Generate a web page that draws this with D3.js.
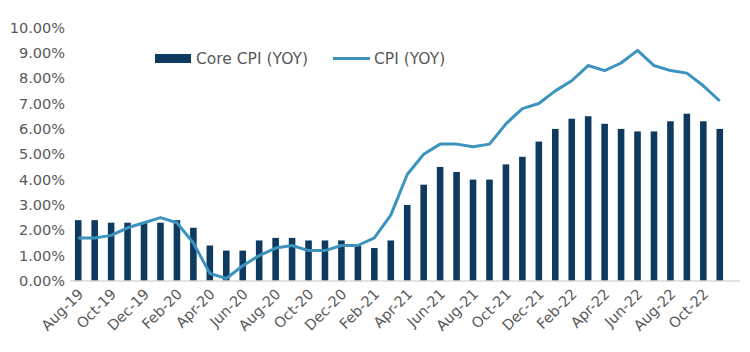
<!DOCTYPE html>
<html>
<head>
<meta charset="utf-8">
<script src="https://cdn.jsdelivr.net/npm/d3@7"></script>
<style>
  body { margin: 0; background: #fff; }
  text { font-family: "DejaVu Sans", sans-serif; fill: #595959; }
</style>
</head>
<body>
<div id="container"></div>
<script>
/* CONSTANTS AND GLOBALS */
const width = 750,
  height = 352,
  margin = { top: 27.5, bottom: 71, left: 70, right: 22 };

// months, Aug-19 .. Nov-22
const months = ["Aug-19","Sep-19","Oct-19","Nov-19","Dec-19",
  "Jan-20","Feb-20","Mar-20","Apr-20","May-20","Jun-20","Jul-20","Aug-20","Sep-20","Oct-20","Nov-20","Dec-20",
  "Jan-21","Feb-21","Mar-21","Apr-21","May-21","Jun-21","Jul-21","Aug-21","Sep-21","Oct-21","Nov-21","Dec-21",
  "Jan-22","Feb-22","Mar-22","Apr-22","May-22","Jun-22","Jul-22","Aug-22","Sep-22","Oct-22","Nov-22"];

const coreCPI = [2.4,2.4,2.3,2.3,2.3,
  2.3,2.4,2.1,1.4,1.2,1.2,1.6,1.7,1.7,1.6,1.6,1.6,
  1.4,1.3,1.6,3.0,3.8,4.5,4.3,4.0,4.0,4.6,4.9,5.5,
  6.0,6.4,6.5,6.2,6.0,5.9,5.9,6.3,6.6,6.3,6.0];

const cpi = [1.7,1.7,1.8,2.1,2.3,
  2.5,2.3,1.5,0.3,0.1,0.6,1.0,1.3,1.4,1.2,1.2,1.4,
  1.4,1.7,2.6,4.2,5.0,5.4,5.4,5.3,5.4,6.2,6.8,7.0,
  7.5,7.9,8.5,8.3,8.6,9.1,8.5,8.3,8.2,7.7,7.1];

const yTicks = [0,1,2,3,4,5,6,7,8,9,10];
const xLabels = months.filter((d, i) => i % 2 === 0);

const barColor = "#0d3a5e",
  lineColor = "#3b93be";

const svg = d3.select("#container")
  .append("svg")
  .attr("width", width)
  .attr("height", height);

/* SCALES */
const xScale = d3.scaleBand()
  .domain(months)
  .range([margin.left, width - margin.right])
  .paddingInner(0.6)
  .paddingOuter(0.3);

const yScale = d3.scaleLinear()
  .domain([0, 10])
  .range([height - margin.bottom, margin.top]);

// y axis labels (no line)
const yAxis = d3.axisLeft(yScale)
  .tickValues(yTicks)
  .tickSize(0)
  .tickPadding(5)
  .tickFormat(d => d.toFixed(2) + "%");

svg.append("g")
  .attr("transform", `translate(${margin.left},0)`)
  .call(yAxis)
  .call(g => g.select(".domain").remove())
  .selectAll("text")
  .style("font-size", "14.5px")
  .attr("fill", "#595959");

// bars
svg.selectAll("rect.bar")
  .data(coreCPI)
  .join("rect")
  .attr("class", "bar")
  .attr("x", (d, i) => xScale(months[i]))
  .attr("width", xScale.bandwidth())
  .attr("y", d => yScale(d))
  .attr("height", d => yScale(0) - yScale(d))
  .attr("fill", barColor);

// baseline
svg.append("line")
  .attr("x1", margin.left)
  .attr("x2", 740)
  .attr("y1", yScale(0))
  .attr("y2", yScale(0))
  .attr("stroke", "#d9d9d9")
  .attr("stroke-width", 1.5);

// x axis labels
const xAxis = d3.axisBottom(xScale)
  .tickValues(xLabels)
  .tickSize(0)
  .tickPadding(0);

svg.append("g")
  .attr("transform", `translate(0,${yScale(0)})`)
  .call(xAxis)
  .call(g => g.select(".domain").remove())
  .selectAll("text")
  .style("font-size", "14.5px")
  .attr("fill", "#595959")
  .attr("text-anchor", "end")
  .attr("dy", "0")
  .attr("transform", "translate(6,14) rotate(-45)");

// CPI line
const line = d3.line()
  .x((d, i) => xScale(months[i]) + xScale.bandwidth() / 2)
  .y(d => yScale(d));

svg.append("path")
  .datum(cpi)
  .attr("fill", "none")
  .attr("stroke", lineColor)
  .attr("stroke-width", 3)
  .attr("stroke-linejoin", "round")
  .attr("d", line);

// legend
const legend = svg.append("g").attr("transform", "translate(155,58.5)");
legend.append("rect")
  .attr("x", 0).attr("y", -4.5)
  .attr("width", 36).attr("height", 9)
  .attr("fill", barColor);
legend.append("text")
  .attr("x", 41).attr("y", 0)
  .attr("dy", "0.35em")
  .style("font-size", "15.5px")
  .text("Core CPI (YOY)");
legend.append("line")
  .attr("x1", 178).attr("x2", 215)
  .attr("y1", 0).attr("y2", 0)
  .attr("stroke", lineColor)
  .attr("stroke-width", 3);
legend.append("text")
  .attr("x", 219).attr("y", 0)
  .attr("dy", "0.35em")
  .style("font-size", "15.5px")
  .text("CPI (YOY)");
</script>
</body>
</html>
